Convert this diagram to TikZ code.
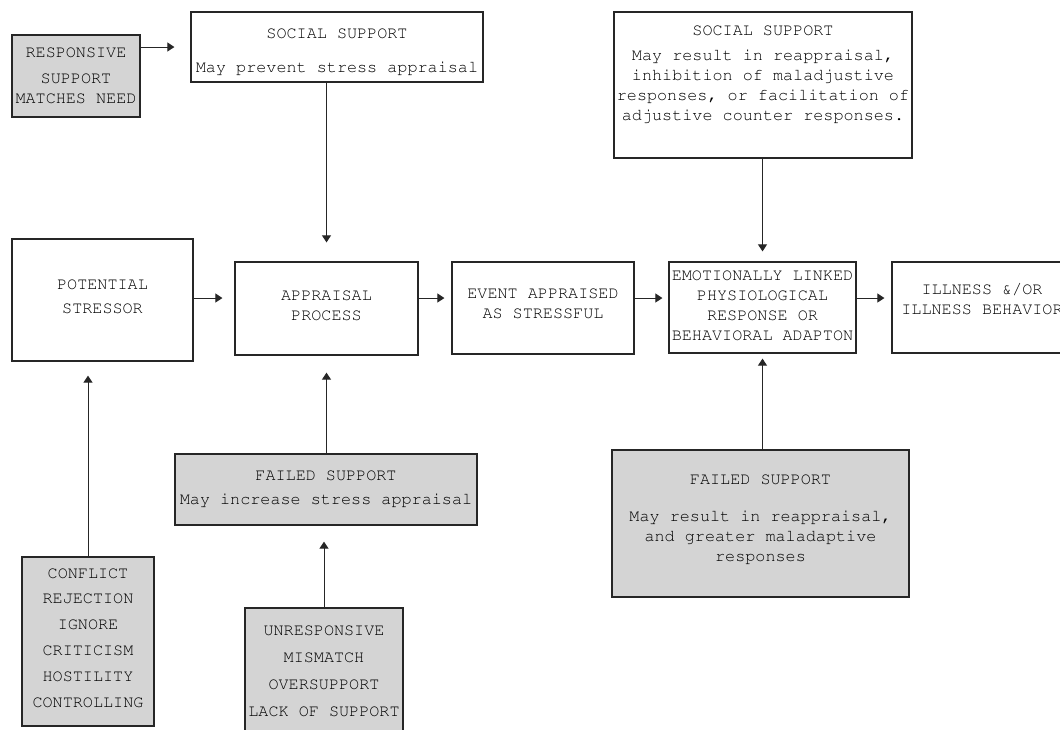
\documentclass[tikz,border=0pt]{standalone}
\usepackage[T1]{fontenc}
\usepackage{courier}
\usetikzlibrary{arrows.meta}

\begin{document}
\begin{tikzpicture}[x=1pt, y=-1pt,
  box/.style={shape=rectangle, draw=black!85, line width=1.2pt, fill=white,
    inner sep=0pt, align=center, text=black, text depth=0pt,
    font=\ttfamily\fontsize{16.8}{19.8}\selectfont},
  greybox/.style={box, fill=black!17},
  arr/.style={-{Triangle[length=7pt,width=9pt]}, draw=black!85, line width=1pt}]

  \useasboundingbox[fill=white] (0,0) rectangle (1060,729);

  % top row
  \node[greybox, minimum width=128pt, minimum height=82pt, text height=54pt] (resp) at (76,76)
    {RESPONSIVE\\[6pt]SUPPORT\\MATCHES NEED};
  \node[box, minimum width=292pt, minimum height=70pt, text height=50pt] (ss1) at (337,47)
    {SOCIAL SUPPORT\\[14pt]May prevent stress appraisal};
  \node[box, minimum width=298pt, minimum height=146pt, text height=70pt] (ss2) at (763,85)
    {SOCIAL SUPPORT\\[5pt]May result in reappraisal,\\inhibition of maladjustive\\responses, or facilitation of\\adjustive counter responses.};

  % main chain
  \node[box, minimum width=181pt, minimum height=122pt, text height=26pt] (pot) at (102.5,300)
    {POTENTIAL\\[4pt]STRESSOR};
  \node[box, minimum width=183pt, minimum height=93pt, text height=23pt] (appr) at (326.5,308.5)
    {APPRAISAL\\PROCESS};
  \node[box, minimum width=182pt, minimum height=92pt, text height=20pt] (event) at (543,308)
    {EVENT APPRAISED\\AS STRESSFUL};
  \node[box, minimum width=187pt, minimum height=91pt, text height=65pt] (emo) at (762.5,307.5)
    {EMOTIONALLY LINKED\\PHYSIOLOGICAL\\RESPONSE OR\\BEHAVIORAL ADAPTON};
  \node[box, minimum width=180pt, minimum height=91pt, text height=13pt] (ill) at (982,307.5)
    {ILLNESS \&/OR\\ILLNESS BEHAVIOR};

  % failed support
  \node[greybox, minimum width=302pt, minimum height=71pt, text height=29pt] (fail1) at (326,489.5)
    {FAILED SUPPORT\\[4pt]May increase stress appraisal};
  \node[greybox, minimum width=297pt, minimum height=147pt, text height=75pt] (fail2) at (760.5,523.5)
    {FAILED SUPPORT\\[17pt]May result in reappraisal,\\and greater maladaptive\\responses};
  \node[greybox, minimum width=132pt, minimum height=169pt, text height=131pt] (confl) at (88,641.5)
    {CONFLICT\\[6pt]REJECTION\\[6pt]IGNORE\\[6pt]CRITICISM\\[6pt]HOSTILITY\\[6pt]CONTROLLING};
  \node[greybox, minimum width=158pt, minimum height=127pt, text height=89pt] (unresp) at (324,671.5)
    {UNRESPONSIVE\\[7pt]MISMATCH\\[7pt]OVERSUPPORT\\[7pt]LACK OF SUPPORT};

  % arrows
  \coordinate (row) at (0,298);
  \draw [arr, shorten >=16pt] (resp.east |- ss1.west) -- (ss1.west);
  \draw [arr, shorten >=19pt] (ss1.south -| appr.north) -- (appr.north);
  \draw [arr, shorten >=10pt] (ss2.south -| emo.north) -- (emo.north);
  \draw [arr, shorten >=12pt] (pot.east |- row) -- (appr.west |- row);
  \draw [arr, shorten >=7pt] (appr.east |- row) -- (event.west |- row);
  \draw [arr, shorten >=6pt] (event.east |- row) -- (emo.west |- row);
  \draw [arr, shorten >=7pt] (emo.east |- row) -- (ill.west |- row);
  \draw [arr, shorten >=14pt] (confl.north) -- (confl.north |- pot.south);
  \draw [arr, shorten >=17pt] (fail1.north -| appr.south) -- (appr.south);
  \draw [arr, shorten >=16pt] (unresp.north) -- (unresp.north |- fail1.south);
  \draw [arr, shorten >=5pt] (fail2.north -| emo.south) -- (emo.south);

\end{tikzpicture}
\end{document}
